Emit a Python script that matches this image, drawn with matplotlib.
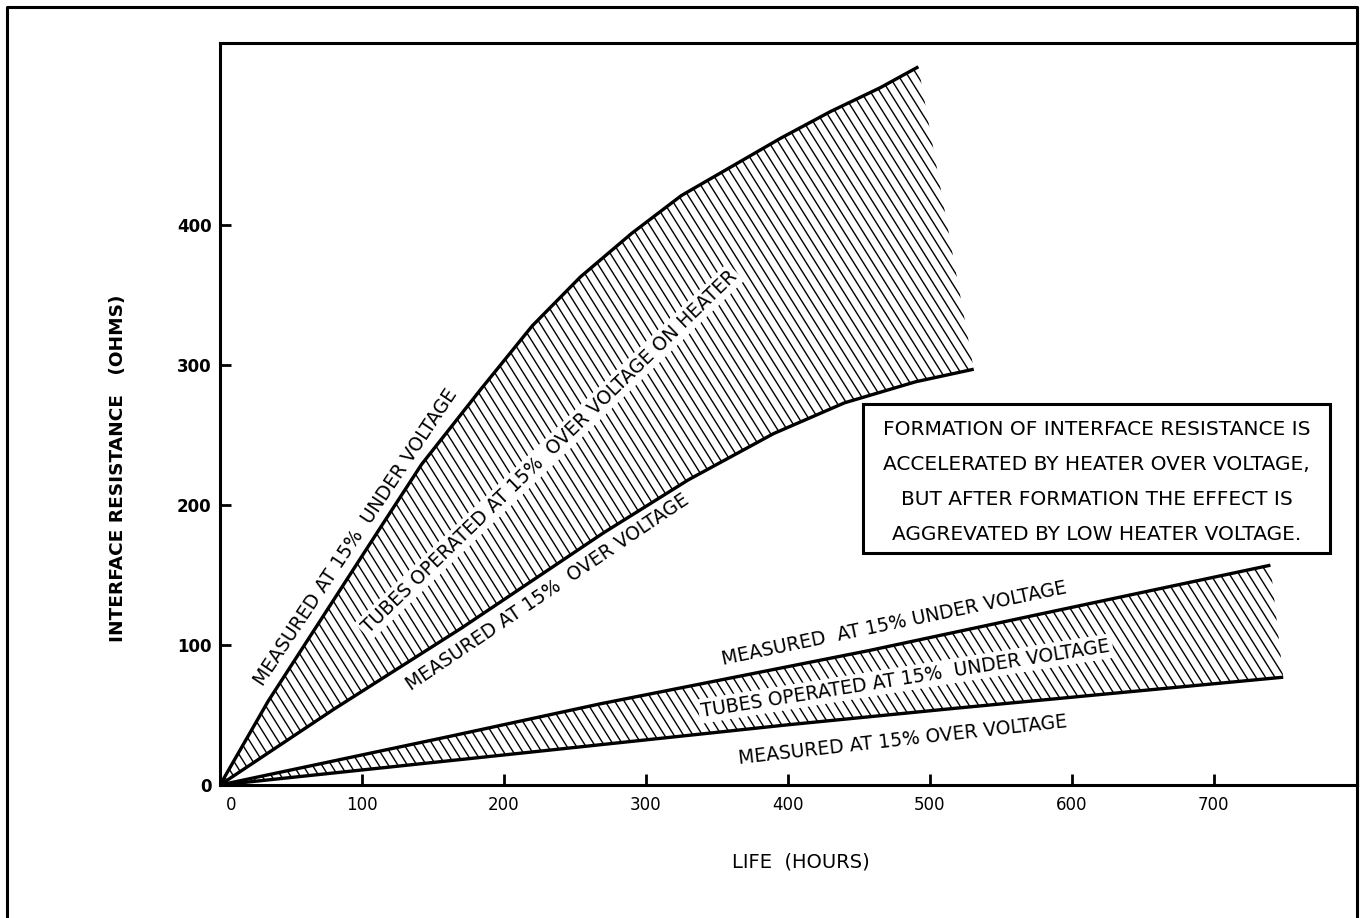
import numpy as np
import matplotlib.pyplot as plt
from matplotlib.patches import Polygon, Rectangle
from matplotlib.lines import Line2D
from matplotlib.collections import LineCollection
import matplotlib.transforms as mtransforms

plt.rcParams['font.family'] = ['DejaVu Sans']

# upper band: tubes run at 15% over voltage on heater
hi_under_x = [0, 34, 64, 115, 142, 184, 220, 254, 290, 325, 395, 430, 465, 492]
hi_under_y = [0, 60, 107, 187, 229, 283, 328, 363, 394, 421, 462, 481, 498, 513]
hi_over_x = [0, 80, 170, 270, 330, 390, 440, 490, 531]
hi_over_y = [0, 54, 112, 180, 218, 251, 273, 288, 297]

# lower band: tubes run at 15% under voltage
lo_under_x = [0, 163, 268, 457, 582, 740]
lo_under_y = [0, 35, 58, 96, 123, 157]
lo_over_x = [0, 233, 400, 520, 749]
lo_over_y = [0, 25, 43, 55, 77]

x_ticks = [0, 100, 200, 300, 400, 500, 600, 700]
y_ticks = [0, 100, 200, 300, 400]

note_lines = ["FORMATION OF INTERFACE RESISTANCE IS",
              "ACCELERATED BY HEATER OVER VOLTAGE,",
              "BUT AFTER FORMATION THE EFFECT IS",
              "AGGREVATED BY LOW HEATER VOLTAGE."]

W, H = 1364, 918
fig = plt.figure(figsize=(W / 100, H / 100), dpi=100)

# outer frame (bottom edge is cut off in the original)
fig.add_artist(Line2D([7 / W, 7 / W, 1357 / W, 1357 / W],
                      [0, 1 - 7 / H, 1 - 7 / H, 0],
                      transform=fig.transFigure, color='black', lw=2.2))

ax = fig.add_axes([220 / W, 1 - 785 / H, (1357 - 220) / W, (785 - 43) / H])
ax.set_xlim(0, 801)
ax.set_ylim(0, 530)
for s in ax.spines.values():
    s.set_linewidth(2.2)


def band(ux, uy, lx, ly):
    pts = list(zip(ux, uy)) + list(zip(lx, ly))[::-1]
    clip = Polygon(pts, closed=True, facecolor='none', edgecolor='none')
    ax.add_patch(clip)
    # steep back-slash hatching, drawn by hand so the angle matches the print
    slope = 1.62
    segs = [[(c - 700 / slope, 700), (c + 100 / slope, -100)]
            for c in np.arange(-20, 1300, 6.7)]
    lc = LineCollection(segs, colors='black', linewidths=1.0)
    ax.add_collection(lc)
    lc.set_clip_path(clip)
    ax.plot(ux, uy, color='black', lw=2.4, solid_capstyle='butt', solid_joinstyle='round')
    ax.plot(lx, ly, color='black', lw=2.4, solid_capstyle='butt', solid_joinstyle='round')


band(hi_under_x, hi_under_y, hi_over_x, hi_over_y)
band(lo_under_x, lo_under_y, lo_over_x, lo_over_y)

# curve labels
lab = dict(ha='center', va='center', rotation_mode='anchor', fontsize=13.5, zorder=5)
inner = dict(boxstyle='square,pad=0.15', facecolor='white', edgecolor='none')
ax.text(96, 177, "MEASURED AT 15%  UNDER VOLTAGE", rotation=56.4, **lab)
ax.text(232, 238, "TUBES OPERATED AT 15%  OVER VOLTAGE ON HEATER", rotation=44,
        bbox=inner, **lab)
ax.text(231, 138, "MEASURED AT 15%  OVER VOLTAGE", rotation=34, **lab)
ax.text(475, 115, "MEASURED  AT 15% UNDER VOLTAGE", rotation=11.8, **lab)
ax.text(483, 76, "TUBES OPERATED AT 15%  UNDER VOLTAGE", rotation=9.1,
        bbox=inner, **lab)
ax.text(481, 32, "MEASURED AT 15% OVER VOLTAGE", rotation=6.4, **lab)

# note box
ax.add_patch(Rectangle((453, 166), 329, 106, facecolor='white', edgecolor='black',
                       lw=2.2, zorder=3))
for i, line in enumerate(note_lines):
    ax.text(617.5, 254 - i * 25, line, ha='center', va='center', fontsize=14.5,
            zorder=4)

ax.set_xticks(x_ticks)
ax.set_xticklabels([str(v) for v in x_ticks])
ax.set_yticks(y_ticks)
ax.set_yticklabels([str(v) for v in y_ticks], fontweight='bold')
ax.tick_params(axis='both', direction='in', length=8, width=2, labelsize=12)
ax.tick_params(axis='x', pad=8)
ax.tick_params(axis='y', pad=6)
lbl0 = ax.get_xticklabels()[0]
lbl0.set_transform(lbl0.get_transform() +
                   mtransforms.ScaledTranslation(8 / 72, 0, fig.dpi_scale_trans))

fig.text(801 / W, 1 - 862 / H, "LIFE  (HOURS)", ha='center', va='center', fontsize=14)
fig.text(118 / W, 1 - 468 / H, "INTERFACE RESISTANCE   (OHMS)", ha='center', va='center',
         rotation=90, fontsize=13.3, fontweight='bold')

fig.savefig('out.png', dpi=100)
